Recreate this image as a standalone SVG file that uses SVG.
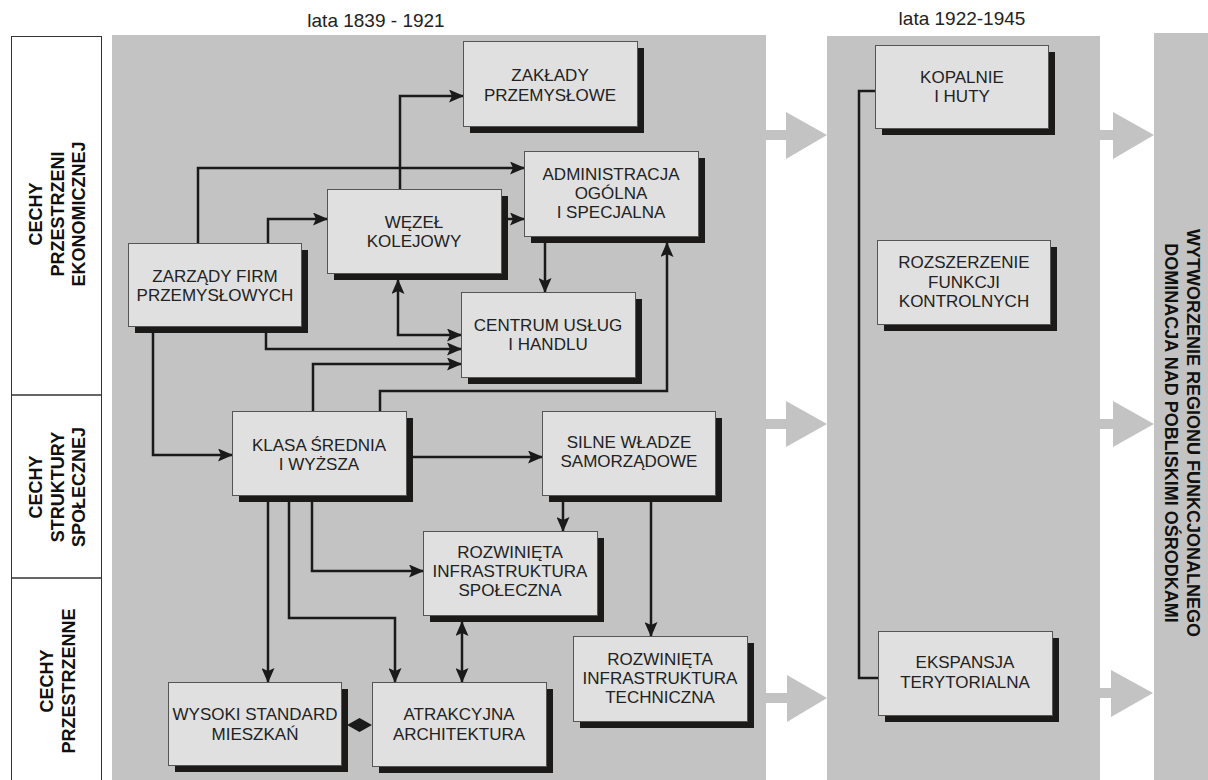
<svg xmlns="http://www.w3.org/2000/svg" width="1208" height="780" viewBox="0 0 1208 780">
<style>
.panel{fill:#c3c3c3}
.big{fill:#c3c3c3}
.box{fill:#e0e0e0;stroke:#555;stroke-width:1}
.sh{fill:#1c1a18}
.t{font-family:"Liberation Sans",Arial,sans-serif;font-size:17px;fill:#222;text-anchor:middle}
.ttl{font-family:"Liberation Sans",Arial,sans-serif;font-size:19px;fill:#222;text-anchor:middle}
.lab{font-family:"Liberation Sans",Arial,sans-serif;font-size:18px;font-weight:bold;fill:#111;text-anchor:middle}
.c{fill:none;stroke:#1a1a1a;stroke-width:2.5}
</style>
<defs>
<marker id="ah" viewBox="0 0 15 13" refX="14" refY="6.5" markerWidth="15" markerHeight="13" markerUnits="userSpaceOnUse" orient="auto-start-reverse">
<path d="M0,0 L15,6.5 L0,13 L3,6.5 z" fill="#1a1a1a"/>
</marker>
</defs>
<rect width="1208" height="780" fill="#fff"/>

<g id="labels-panel">
<rect x="11.5" y="36.5" width="90" height="760" fill="#fff" stroke="#333" stroke-width="1"/>
<line x1="11.5" y1="395" x2="101.5" y2="395" stroke="#333" stroke-width="1.5"/>
<line x1="11.5" y1="578" x2="101.5" y2="578" stroke="#333" stroke-width="1.5"/>
<text class="lab" transform="translate(42,214) rotate(-90)"><tspan x="0" y="0">CECHY</tspan><tspan x="0" y="21.5">PRZESTRZENI</tspan><tspan x="0" y="43">EKONOMICZNEJ</tspan></text>
<text class="lab" transform="translate(42,487) rotate(-90)"><tspan x="0" y="0">CECHY</tspan><tspan x="0" y="21.5">STRUKTURY</tspan><tspan x="0" y="43">SPOŁECZNEJ</tspan></text>
<text class="lab" transform="translate(53,681) rotate(-90)"><tspan x="0" y="0">CECHY</tspan><tspan x="0" y="22">PRZESTRZENNE</tspan></text>
</g>

<g id="panels">
<rect class="panel" x="112" y="35" width="654" height="745"/>
<rect class="panel" x="827" y="36" width="273" height="744"/>
<rect class="panel" x="1154" y="33" width="54" height="747"/>
<text class="ttl" x="376" y="27">lata 1839 - 1921</text>
<text class="ttl" x="962" y="25">lata 1922-1945</text>
<text class="lab" transform="translate(1187,433) rotate(90)"><tspan x="0" y="0">WYTWORZENIE REGIONU FUNKCJONALNEGO</tspan><tspan x="0" y="22">DOMINACJA NAD POBLISKIMI OŚRODKAMI</tspan></text>
</g>

<g id="big-arrows">
<polygon class="big" points="766,130 786,130 786,112 827,135 786,159 786,140 766,140"/>
<polygon class="big" points="766,419 786,419 786,401 827,424 786,447 786,429 766,429"/>
<polygon class="big" points="766,693 787,693 787,675 827,698 787,722 787,703 766,703"/>
<polygon class="big" points="1100,130 1113,130 1113,112 1154,135 1113,159 1113,140 1100,140"/>
<polygon class="big" points="1100,419 1113,419 1113,401 1154,424 1113,447 1113,429 1100,429"/>
<polygon class="big" points="1100,688 1111,688 1111,670 1153,693 1111,717 1111,698 1100,698"/>
</g>

<g id="connectors">
<path class="c" d="M198,243 V168 H524" marker-end="url(#ah)"/>
<path class="c" d="M268,243 V219 H327" marker-end="url(#ah)"/>
<path class="c" d="M400,189 V96 H463" marker-end="url(#ah)"/>
<path class="c" d="M501,219 H524" marker-end="url(#ah)"/>
<path class="c" d="M545,236 V292" marker-end="url(#ah)"/>
<path class="c" d="M380,411 V391 H667 V243" marker-end="url(#ah)"/>
<path class="c" d="M313,411 V364 H461" marker-end="url(#ah)"/>
<path class="c" d="M266,326 V349 H461" marker-end="url(#ah)"/>
<path class="c" d="M398,280 V335 H461" marker-start="url(#ah)" marker-end="url(#ah)"/>
<path class="c" d="M153,326 V455 H232" marker-end="url(#ah)"/>
<path class="c" d="M406,457 H542" marker-end="url(#ah)"/>
<path class="c" d="M563,495 V531" marker-end="url(#ah)"/>
<path class="c" d="M651,495 V636" marker-end="url(#ah)"/>
<path class="c" d="M268,495 V682" marker-end="url(#ah)"/>
<path class="c" d="M289,495 V618 H395 V682" marker-end="url(#ah)"/>
<path class="c" d="M312,495 V571 H423" marker-end="url(#ah)"/>
<path class="c" d="M462,622 V682" marker-start="url(#ah)" marker-end="url(#ah)"/>
<polygon points="347,725 359.5,718 372,725 359.5,732" fill="#1a1a1a"/>
<path class="c" d="M875,91 H859 V678 H878" stroke-width="3"/>
</g>

<g id="n-zaklady">
<rect class="sh" x="470" y="48" width="174" height="85"/>
<rect class="box" x="463.5" y="41.5" width="174" height="85"/>
<text class="t" x="550" y="81">ZAKŁADY</text><text class="t" x="550" y="101">PRZEMYSŁOWE</text>
</g>
<g id="n-administracja">
<rect class="sh" x="531" y="158" width="174" height="85"/>
<rect class="box" x="524.5" y="151.5" width="174" height="85"/>
<text class="t" x="611" y="180">ADMINISTRACJA</text><text class="t" x="611" y="199">OGÓLNA</text><text class="t" x="611" y="218">I SPECJALNA</text>
</g>
<g id="n-wezel">
<rect class="sh" x="334" y="196" width="174" height="84"/>
<rect class="box" x="327.5" y="189.5" width="174" height="84"/>
<text class="t" x="414" y="228">WĘZEŁ</text><text class="t" x="414" y="247">KOLEJOWY</text>
</g>
<g id="n-zarzady">
<rect class="sh" x="135" y="250" width="173" height="83"/>
<rect class="box" x="128.5" y="243.5" width="173" height="83"/>
<text class="t" x="215" y="282">ZARZĄDY FIRM</text><text class="t" x="215" y="301">PRZEMYSŁOWYCH</text>
</g>
<g id="n-centrum">
<rect class="sh" x="468" y="299" width="174" height="85"/>
<rect class="box" x="461.5" y="292.5" width="174" height="85"/>
<text class="t" x="548" y="331">CENTRUM USŁUG</text><text class="t" x="548" y="350">I HANDLU</text>
</g>
<g id="n-klasa">
<rect class="sh" x="239" y="418" width="174" height="84"/>
<rect class="box" x="232.5" y="411.5" width="174" height="84"/>
<text class="t" x="319" y="451">KLASA ŚREDNIA</text><text class="t" x="319" y="470">I WYŻSZA</text>
</g>
<g id="n-silne">
<rect class="sh" x="549" y="418" width="173" height="84"/>
<rect class="box" x="542.5" y="411.5" width="173" height="84"/>
<text class="t" x="629" y="448">SILNE WŁADZE</text><text class="t" x="629" y="467">SAMORZĄDOWE</text>
</g>
<g id="n-spoleczna">
<rect class="sh" x="430" y="538" width="174" height="84"/>
<rect class="box" x="423.5" y="531.5" width="174" height="84"/>
<text class="t" x="510" y="558">ROZWINIĘTA</text><text class="t" x="510" y="577">INFRASTRUKTURA</text><text class="t" x="510" y="596">SPOŁECZNA</text>
</g>
<g id="n-techniczna">
<rect class="sh" x="580" y="643" width="174" height="85"/>
<rect class="box" x="573.5" y="636.5" width="174" height="85"/>
<text class="t" x="660" y="665">ROZWINIĘTA</text><text class="t" x="660" y="684">INFRASTRUKTURA</text><text class="t" x="660" y="703">TECHNICZNA</text>
</g>
<g id="n-atrakcyjna">
<rect class="sh" x="379" y="689" width="174" height="84"/>
<rect class="box" x="372.5" y="682.5" width="174" height="84"/>
<text class="t" x="459" y="720">ATRAKCYJNA</text><text class="t" x="459" y="740">ARCHITEKTURA</text>
</g>
<g id="n-wysoki">
<rect class="sh" x="175" y="689" width="173" height="83"/>
<rect class="box" x="168.5" y="682.5" width="173" height="83"/>
<text class="t" x="255" y="720">WYSOKI STANDARD</text><text class="t" x="255" y="740">MIESZKAŃ</text>
</g>
<g id="n-kopalnie">
<rect class="sh" x="882" y="52" width="173" height="83"/>
<rect class="box" x="875.5" y="45.5" width="173" height="83"/>
<text class="t" x="962" y="83">KOPALNIE</text><text class="t" x="962" y="102">I HUTY</text>
</g>
<g id="n-rozszerzenie">
<rect class="sh" x="884" y="247" width="173" height="84"/>
<rect class="box" x="877.5" y="240.5" width="173" height="84"/>
<text class="t" x="964" y="268">ROZSZERZENIE</text><text class="t" x="964" y="288">FUNKCJI</text><text class="t" x="964" y="307">KONTROLNYCH</text>
</g>
<g id="n-ekspansja">
<rect class="sh" x="885" y="638" width="174" height="84"/>
<rect class="box" x="878.5" y="631.5" width="174" height="84"/>
<text class="t" x="965" y="668">EKSPANSJA</text><text class="t" x="965" y="688">TERYTORIALNA</text>
</g>
</svg>
